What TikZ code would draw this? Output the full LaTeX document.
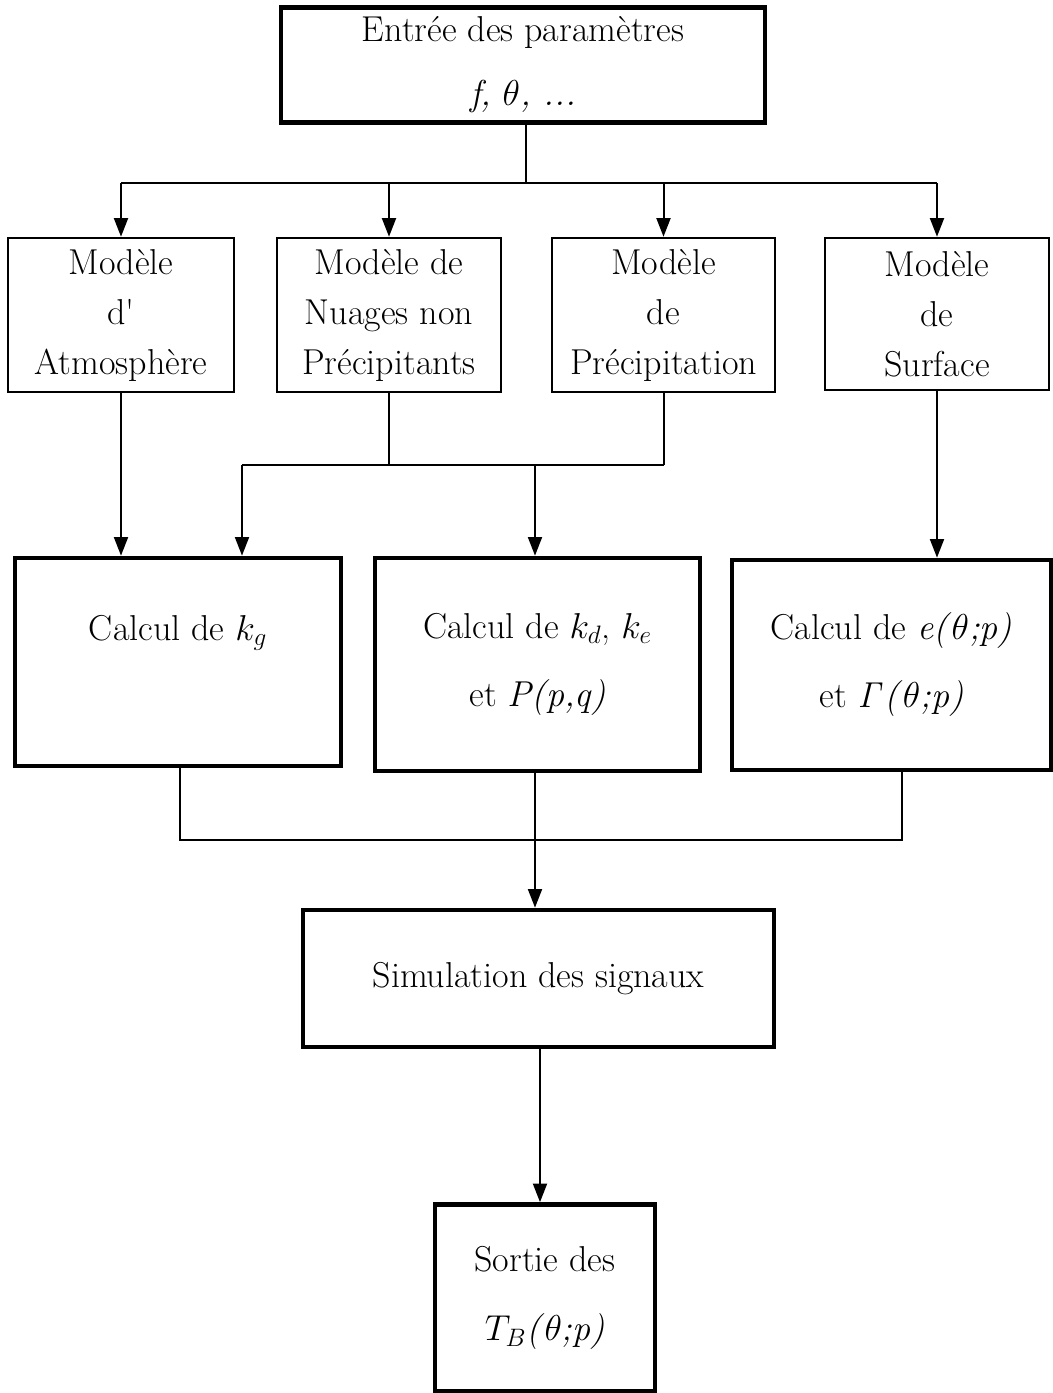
\RequirePackage{fix-cm}
\documentclass[tikz,border=0pt]{standalone}
\usetikzlibrary{arrows.meta}
\begin{document}
\begin{tikzpicture}[x=0.75pt,y=-0.75pt,
  bx/.style 2 args={minimum width=#1*0.75pt, minimum height=#2*0.75pt},
  thinbox/.style={draw, line width=1.9pt, inner sep=0pt, align=center},
  thickbox/.style={draw, line width=3.5pt, inner sep=0pt, align=center},
  conn/.style={line width=1.5pt},
  arr/.style={conn, -{Triangle[length=14pt,width=10.5pt]}},
  fm/.style={font=\fontsize{27}{37.5}\selectfont},
]
\useasboundingbox (0,0) rectangle (1053,1393);

% top box
\node[thickbox, bx={484}{115}, font=\fontsize{27}{48}\selectfont] (top) at (523,65)
  {Entrée des paramètres\\ \textit{f,} $\theta$\textit{, ...}};

% model boxes
\node[thinbox, bx={226}{154}, fm] (m1) at (121,315) {Modèle\\ d\textquotesingle\\ Atmosphère};
\node[thinbox, bx={224}{154}, fm] (m2) at (389,315) {Modèle de\\ Nuages non\\ Précipitants};
\node[thinbox, bx={223}{154}, fm] (m3) at (663.5,315) {Modèle\\ de\\ Précipitation};
\node[thinbox, bx={224}{152}, fm] (m4) at (937,314) {Modèle\\ de\\ Surface};

% calc boxes
\node[thickbox, bx={326}{208}, font=\fontsize{27}{51}\selectfont] (c1) at (178,662)
  {Calcul de $k_g$\\ \mbox{}};
\node[thickbox, bx={325}{213}, font=\fontsize{27}{51}\selectfont] (c2) at (537.5,664.5)
  {Calcul de $k_d$, $k_e$\\ et \textit{P(p,q)}};
\node[thickbox, bx={319}{210}, font=\fontsize{27}{51}\selectfont] (c3) at (891.5,665)
  {Calcul de \textit{e(}$\theta$\textit{;p)}\\ et $\mathit{\Gamma}$\textit{(}$\theta$\textit{;p)}};

% simulation
\node[thickbox, bx={471}{137}, font=\fontsize{27}{36}\selectfont] (sim) at (538.5,978.5)
  {Simulation des signaux};

% sortie
\node[thickbox, bx={220}{187}, font=\fontsize{27}{52}\selectfont] (out) at (545,1298)
  {Sortie des\\ $T_B$\textit{(}$\theta$\textit{;p)}};

% connectors: top -> models
\coordinate (bus) at (526,183);
\draw[conn] (top.south -| bus) -- (bus);
\draw[conn] (m1.north |- bus) -- (m4.north |- bus);
\foreach \m in {m1,m2,m3,m4}{
  \draw[arr] (\m.north |- bus) -- (\m.north);
}

% models -> calc
\draw[arr] (m1.south) -- (m1.south |- c1.north);
\coordinate (jL) at (242,465);
\coordinate (jM) at (535,465);
\draw[conn] (m2.south) -- (m2.south |- jL);
\draw[conn] (m3.south) -- (m3.south |- jL);
\draw[conn] (jL) -- (m3.south |- jL);
\draw[arr] (jL) -- (jL |- c1.north);
\draw[arr] (jM) -- (jM |- c2.north);
\draw[arr] (m4.south) -- (m4.south |- c3.north);

% calc -> simulation
\coordinate (k1) at (180,840);
\coordinate (k2) at (535,840);
\coordinate (k3) at (902,840);
\draw[conn] (c1.south -| k1) -- (k1) -- (k3) -- (c3.south -| k3);
\draw[arr] (c2.south -| k2) -- (k2 |- sim.north);

% simulation -> sortie
\coordinate (k4) at (540,1100);
\draw[arr] (sim.south -| k4) -- (out.north -| k4);
\end{tikzpicture}
\end{document}
